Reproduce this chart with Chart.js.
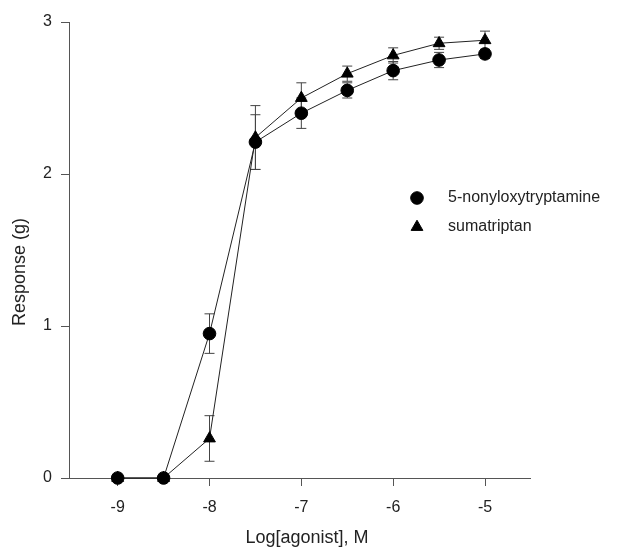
<!DOCTYPE html>
<html lang="en">
<head>
    <meta charset="UTF-8">
    <title>Response vs Log[agonist]</title>
    <script src="https://cdn.jsdelivr.net/npm/chart.js"></script>
    <style>
        body { margin: 0; background: #fff; }
        canvas { display: block; }
    </style>
</head>
<body>
    <canvas id="doseChart" width="618" height="547"></canvas>

    <script>
        // data
        const logDose = [-9, -8.5, -8, -7.5, -7, -6.5, -6, -5.5, -5];
        const nonyloxy = [0, 0, 0.95, 2.21, 2.40, 2.55, 2.68, 2.75, 2.79];
        const nonyloxyErr = [0, 0, 0.13, 0.18, 0.10, 0.05, 0.06, 0.05, 0.03];
        const sumatriptan = [0, 0, 0.26, 2.24, 2.50, 2.66, 2.78, 2.86, 2.88];
        const sumatriptanErr = [0, 0, 0.15, 0.21, 0.10, 0.05, 0.05, 0.04, 0.06];
        const xTicks = [-9, -8, -7, -6, -5];
        const yTicks = [0, 1, 2, 3];
        const xTitle = 'Log[agonist], M';
        const yTitle = 'Response (g)';

        const FONT = 'Liberation Sans, Arial, Helvetica, sans-serif';
        const INK = '#222';

        function points(ys) {
            return logDose.map((x, i) => ({ x: x, y: ys[i] }));
        }

        // vertical error bars with caps, drawn under the markers
        const errorBars = {
            id: 'errorBars',
            beforeDatasetsDraw(chart) {
                const { ctx, scales: { x, y } } = chart;
                const errs = [nonyloxyErr, sumatriptanErr];
                ctx.save();
                ctx.strokeStyle = '#444';
                ctx.lineWidth = 1;
                chart.data.datasets.forEach((ds, d) => {
                    ds.data.forEach((p, i) => {
                        const e = errs[d][i];
                        if (!e) return;
                        const px = x.getPixelForValue(p.x);
                        const top = y.getPixelForValue(p.y + e);
                        const bot = y.getPixelForValue(p.y - e);
                        ctx.beginPath();
                        ctx.moveTo(px, top); ctx.lineTo(px, bot);
                        ctx.moveTo(px - 5, top); ctx.lineTo(px + 5, top);
                        ctx.moveTo(px - 5, bot); ctx.lineTo(px + 5, bot);
                        ctx.stroke();
                    });
                });
                ctx.restore();
            }
        };

        // axis titles + legend inside the plot
        const annotations = {
            id: 'annotations',
            afterDraw(chart) {
                const { ctx, chartArea } = chart;
                ctx.save();
                ctx.fillStyle = INK;
                ctx.textAlign = 'center';
                ctx.textBaseline = 'middle';
                ctx.font = '18px ' + FONT;
                ctx.fillText(xTitle, chartArea.left + 238, 538);
                ctx.translate(20, chartArea.top + 250);
                ctx.rotate(-Math.PI / 2);
                ctx.fillText(yTitle, 0, 0);
                ctx.restore();

                ctx.save();
                ctx.font = '16px ' + FONT;
                ctx.textBaseline = 'middle';
                chart.data.datasets.forEach((ds, i) => {
                    const lx = 417, ly = 198 + i * 29;
                    ctx.fillStyle = '#000';
                    ctx.strokeStyle = '#000';
                    Chart.helpers.drawPoint(ctx, {
                        pointStyle: ds.pointStyle,
                        radius: ds.pointRadius,
                        borderWidth: 1
                    }, lx, ly);
                    ctx.fillStyle = INK;
                    ctx.fillText(ds.label, 448, ly);
                });
                ctx.restore();
            }
        };

        const ctx = document.getElementById('doseChart').getContext('2d');

        new Chart(ctx, {
            type: 'line',
            data: {
                datasets: [
                    {
                        label: '5-nonyloxytryptamine',
                        data: points(nonyloxy),
                        borderColor: INK,
                        borderWidth: 1,
                        pointStyle: 'circle',
                        pointRadius: 6.3,
                        pointBackgroundColor: '#000',
                        pointBorderColor: '#000',
                        tension: 0,
                        clip: false
                    },
                    {
                        label: 'sumatriptan',
                        data: points(sumatriptan),
                        borderColor: INK,
                        borderWidth: 1,
                        pointStyle: 'triangle',
                        pointRadius: 6.8,
                        pointBackgroundColor: '#000',
                        pointBorderColor: '#000',
                        tension: 0,
                        clip: false
                    }
                ]
            },
            options: {
                responsive: false,
                animation: false,
                events: [],
                layout: { padding: { top: 22, right: 88, left: 0, bottom: 0 } },
                plugins: {
                    legend: { display: false },
                    tooltip: { enabled: false }
                },
                scales: {
                    x: {
                        type: 'linear',
                        min: -9.53,
                        max: -4.51,
                        afterBuildTicks: (s) => { s.ticks = xTicks.map(v => ({ value: v })); },
                        afterFit: (s) => { s.height = 69; },
                        grid: { display: true, drawOnChartArea: false, drawTicks: true, tickLength: 8, color: '#555' },
                        border: { display: true, color: '#555', width: 1 },
                        ticks: { color: INK, font: { family: FONT, size: 16 }, padding: 12 }
                    },
                    y: {
                        type: 'linear',
                        min: 0,
                        max: 3,
                        afterBuildTicks: (s) => { s.ticks = yTicks.map(v => ({ value: v })); },
                        afterFit: (s) => { s.width = 69; },
                        grid: { display: true, drawOnChartArea: false, drawTicks: true, tickLength: 8, color: '#555' },
                        border: { display: true, color: '#555', width: 1 },
                        ticks: { color: INK, font: { family: FONT, size: 16 }, padding: 9 }
                    }
                }
            },
            plugins: [errorBars, annotations]
        });
    </script>
</body>
</html>
